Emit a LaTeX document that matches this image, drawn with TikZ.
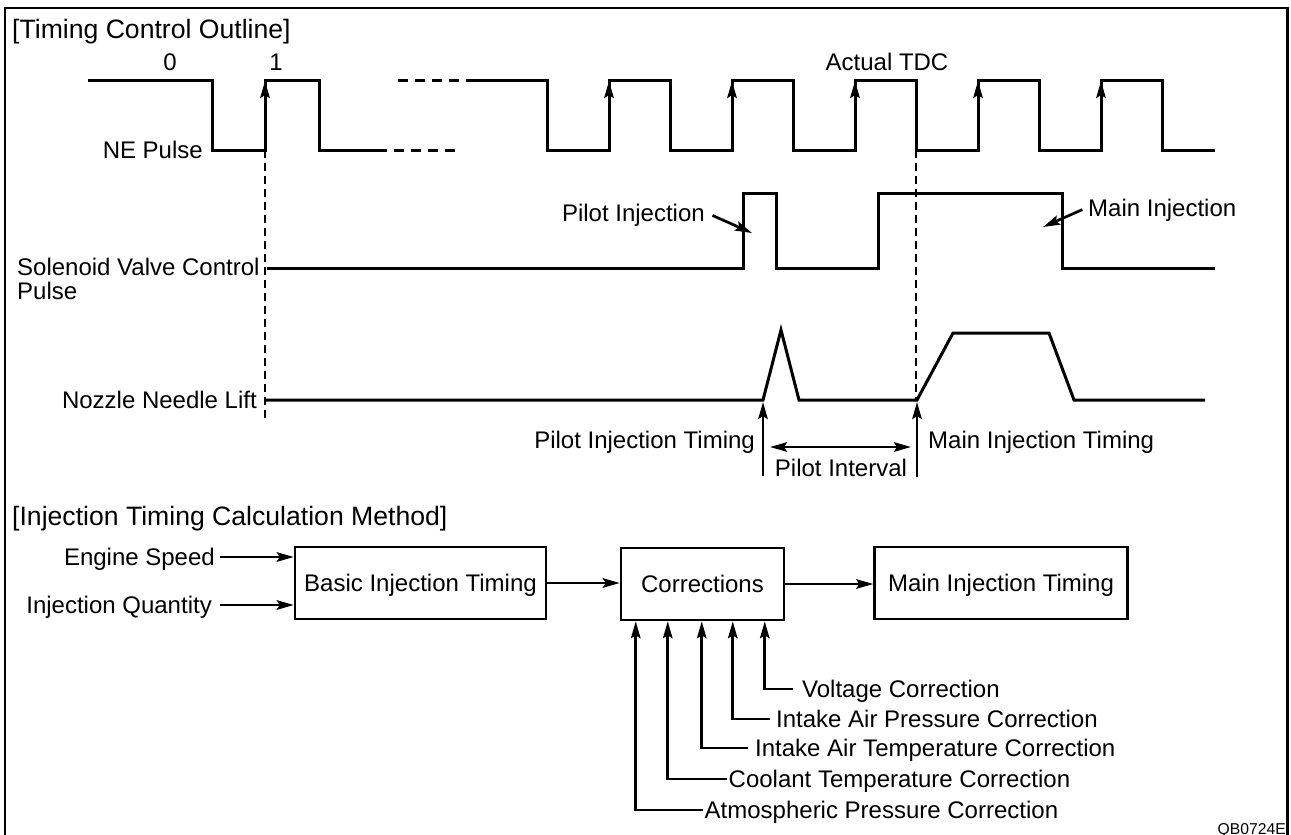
\documentclass[tikz,border=0pt]{standalone}
\usepackage{fontspec}
\setmainfont{Liberation Sans}
\usetikzlibrary{arrows.meta}

\tikzset{
  hd/.tip={Stealth[length=17pt,width=9.5pt,inset=3pt]},
  wave/.style={line width=3pt},
  dsh/.style={line width=2.6pt, dash pattern=on 8pt off 5pt},
  arr/.style={line width=2.7pt, -hd},
  lbl/.style={inner sep=2pt, font=\fontsize{24}{24}\selectfont, text height=17pt, text depth=0pt},
  ttl/.style={inner sep=0pt, anchor=west, font=\fontsize{26.6}{28}\selectfont, text height=19pt, text depth=0pt},
  blk/.style={draw, line width=2.5pt, minimum height=72pt, inner sep=0pt, font=\fontsize{24}{24}\selectfont, text height=17pt, text depth=0pt}
}

\begin{document}
\begin{tikzpicture}[x=1pt, y=-1pt]
    \useasboundingbox (0,0) rectangle (1291,835);
    % --- FRAME ---
    \draw[line width=2.8pt] (5,835) -- (5,8) -- (1287.5,8) -- (1287.5,835);
    \node[ttl] (outline) at (12,29) {[Timing Control Outline]};

    % --- NE PULSE ---
    \draw[wave] (88,80) -- (212,80) -- (212,150) -- (265,150) -- (265,80) -- (319,80) -- (319,150) -- (377,150);
    \draw[wave, dash pattern=on 10pt off 7pt] (377,150) -- (460,150);
    \draw[wave, dash pattern=on 10pt off 7pt] (398,80) -- (475,80);
    \draw[wave] (475,80) -- (547,80) -- (547,150) -- (609,150) -- (609,80) -- (670,80) -- (670,150)
        -- (732,150) -- (732,80) -- (793,80) -- (793,150) -- (855,150) -- (855,80) -- (916,80) -- (916,150)
        -- (978,150) -- (978,80) -- (1039,80) -- (1039,150) -- (1101,150) -- (1101,80) -- (1162,80) -- (1162,150) -- (1215,150);
    \foreach \r in {265,609,732,855,978,1101}
        \draw[arr] (\r,125) -- (\r,81);
    \node[lbl] (zero) at (170,62) {0};
    \node[lbl] (one) at (276,62) {1};
    \node[lbl] (tdc) at (887,62) {Actual TDC};
    \node[lbl, anchor=east] (ne) at (205,150) {NE Pulse};

    % --- SOLENOID VALVE ---
    \draw[wave] (267,268) -- (743,268) -- (743,193) -- (776,193) -- (776,268) -- (878,268) -- (878,193) -- (1062,193) -- (1062,268) -- (1215,268);
    \node[inner sep=0pt, anchor=north west, align=left, font=\fontsize{24}{24}\selectfont] (svc) at (17,257.5) {Solenoid Valve Control\\Pulse};
    \coordinate (ptip) at (752,233);
    \coordinate (mtip) at (1043,227);
    \node[lbl, anchor=east] (pinj) at (707,213) {Pilot Injection};
    \node[lbl, anchor=west] (minj) at (1086,208) {Main Injection};
    \draw[arr, shorten <=6pt] (pinj.east) -- (ptip);
    \draw[arr, shorten <=4pt] (minj.west) -- (mtip);

    % --- NOZZLE NEEDLE ---
    \draw[wave] (265,400) -- (763,400) -- (781,330) -- (799,400) -- (917,400) -- (953,333) -- (1049,333) -- (1074,400) -- (1205,400);
    \node[lbl, anchor=east] (nnl) at (259,400) {Nozzle Needle Lift};
    \draw[dsh] (265,150) -- (265,418);
    \draw[dsh] (916,150) -- (916,400);

    \coordinate (pfoot) at (763,476);
    \coordinate (ptop) at (763,402);
    \coordinate (mfoot) at (917,477);
    \coordinate (mtop) at (917,402);
    \draw[arr] (pfoot) -- (ptop);
    \draw[arr] (mfoot) -- (mtop);
    \coordinate (ivl) at (770,447);
    \coordinate (ivr) at (911,447);
    \draw[line width=2.7pt, hd-hd] (ivl) -- (ivr);
    \node[lbl, anchor=east] (pit) at (757,440) {Pilot Injection Timing};
    \node[lbl, anchor=west] (mit) at (926,440) {Main Injection Timing};
    \node[lbl] (pint) at (841,468) {Pilot Interval};

    % --- CALCULATION METHOD ---
    \node[ttl] (calc) at (12,516) {[Injection Timing Calculation Method]};
    \node[blk, minimum width=251pt] (basic) at (420.5,583) {Basic Injection Timing};
    \node[blk, minimum width=163pt] (corr) at (702.5,584) {Corrections};
    \node[blk, minimum width=253pt] (main) at (1001,583) {Main Injection Timing};
    \node[lbl, anchor=east] (speed) at (217,557) {Engine Speed};
    \node[lbl, anchor=east] (qty) at (214,605) {Injection Quantity};
    \draw[arr, shorten <=3pt] (speed.east) -- (speed.east -| basic.west);
    \draw[arr, shorten <=6pt] (qty.east) -- (qty.east -| basic.west);
    \draw[arr] (basic.east) -- (basic.east -| corr.west);
    \draw[arr] (corr.east) -- (corr.east -| main.west);

    \node[lbl, anchor=west] (volt) at (800,689) {Voltage Correction};
    \node[lbl, anchor=west] (iap) at (774,719) {Intake Air Pressure Correction};
    \node[lbl, anchor=west] (iat) at (753,748) {Intake Air Temperature Correction};
    \node[lbl, anchor=west] (cool) at (726.5,779) {Coolant Temperature Correction};
    \node[lbl, anchor=west] (atm) at (702.5,810) {Atmospheric Pressure Correction};
    \foreach \n/\dx/\s in {atm/16/0, cool/48/0, iat/82/5, iap/113/4, volt/145/7}
        \draw[arr, shorten <=\s pt] (\n.west) -| ([xshift=\dx pt]corr.south west);

    \node[inner sep=0pt, anchor=base east, font=\fontsize{15.7}{16}\selectfont] (code) at (1286,834) {QB0724E};
\end{tikzpicture}
\end{document}
